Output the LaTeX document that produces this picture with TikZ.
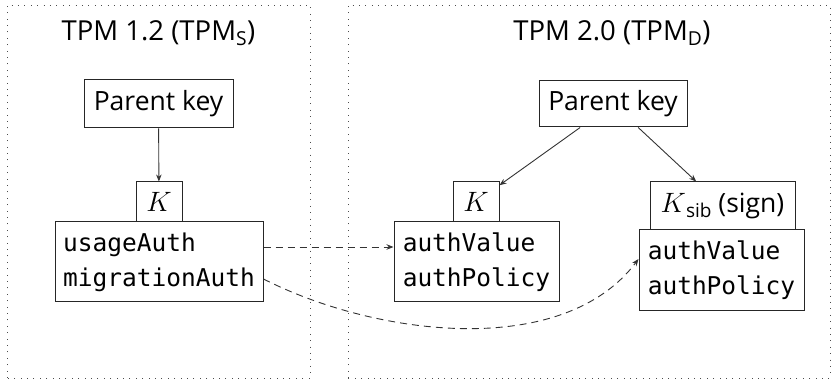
\RequirePackage{fix-cm}
\documentclass[tikz,border=0pt]{standalone}
\usepackage{fontspec}
\setmainfont{Open Sans}
\setmonofont{DejaVu Sans Mono}
\usetikzlibrary{arrows.meta}

% italic key symbol, a little larger than the surrounding text
\newcommand\keysym{{\fontsize{28}{32}\selectfont$K$}}

\tikzset{
  frame/.style={draw=black!70, line width=0.9pt, dash pattern=on 0.9pt off 5.5pt},
  tpmtitle/.style={anchor=base, inner sep=0pt, font=\fontsize{27.5}{32}\selectfont},
  box/.style={draw=black!85, line width=1pt, inner sep=0pt, font=\fontsize{26.5}{32}\selectfont},
  keybox/.style={box, minimum height=40pt},
  fieldbox/.style={box, align=left, minimum height=80pt,
    font=\ttfamily\fontsize{24.5}{35}\selectfont},
  link/.style={draw=black!80, line width=0.9pt, -{Stealth[length=7pt,width=5.5pt]}},
  dlink/.style={link, dash pattern=on 7pt off 5pt},
}

\begin{document}
\begin{tikzpicture}[x=1pt, y=1pt]
  \useasboundingbox (0,0) rectangle (831,380);

  % the two TPM regions
  \draw[frame] (7,2) rectangle (310,375);
  \draw[frame] (348,2) rectangle (830,375);

  \node[tpmtitle] (t1) at (158.5,339) {TPM 1.2 (TPM\textsubscript{S})};
  \node[tpmtitle] (t2) at (612,339) {TPM 2.0 (TPM\textsubscript{D})};

  % TPM 1.2 side
  \node[box, minimum width=149pt, minimum height=48pt] (pk1) at (158.5,276) {Parent key};
  \node[keybox, minimum width=46pt] (k1) at (159,178) {\keysym};
  \node[fieldbox, minimum width=208pt] (c1) at (159,118) {usageAuth\\migrationAuth};

  % TPM 2.0 side
  \node[box, minimum width=148pt, minimum height=46pt] (pk2) at (613,276) {Parent key};
  \node[keybox, minimum width=46pt] (k2) at (476,178) {\keysym};
  \node[fieldbox, minimum width=165pt] (c2) at (476.5,118) {authValue\\authPolicy};
  \node[box, minimum width=145pt, minimum height=48pt] (k3) at (722.5,174)
    {\keysym\raisebox{-4.5pt}{\fontsize{19}{22}\selectfont sib} (sign)};
  \node[fieldbox, minimum width=165pt, minimum height=81pt] (c3) at (721.5,109.5) {authValue\\authPolicy};

  % hierarchy
  \draw[link] (pk1) -- (k1);
  \draw[link] (pk2) -- (k2);
  \draw[link] (pk2) -- (k3);

  % migration of authorization data
  \draw[dlink] ([yshift=15pt]c1.east) -- ([yshift=15pt]c2.west);
  \draw[dlink] ([yshift=-17pt]c1.east)
    .. controls +(-27:126pt) and +(233:126pt) .. ([yshift=11.5pt]c3.west);
\end{tikzpicture}
\end{document}
